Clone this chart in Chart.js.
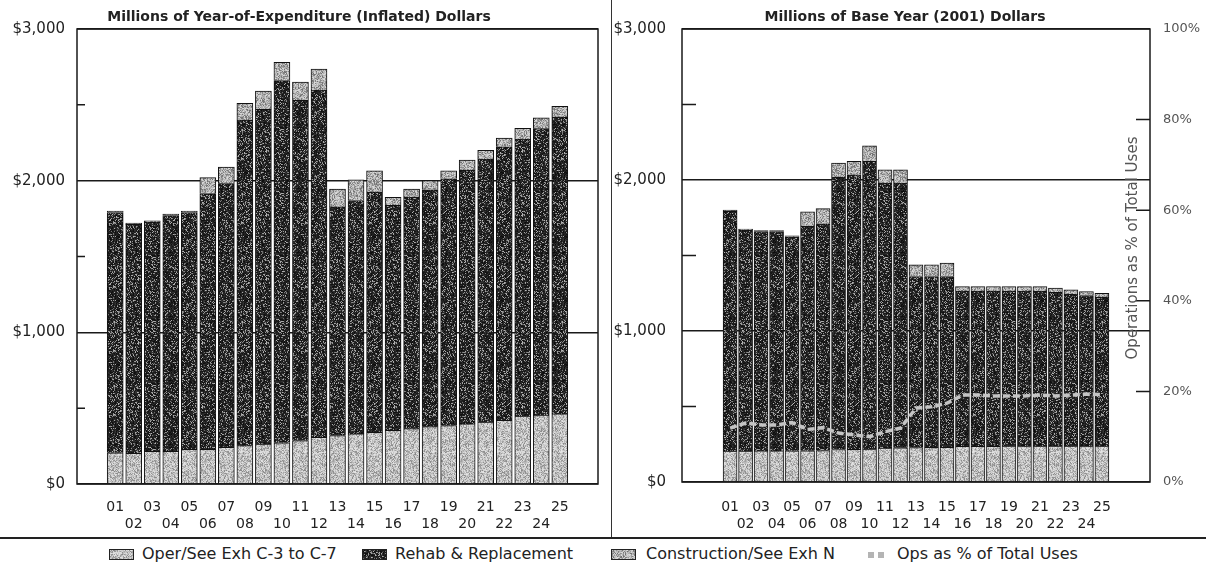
<!DOCTYPE html>
<html>
<head>
<meta charset="utf-8">
<title>Uses of Funds</title>
<script src="https://cdn.jsdelivr.net/npm/chart.js@4.4.1/dist/chart.umd.min.js"></script>
<style>
  html, body { margin: 0; padding: 0; background: #fff; }
  body { width: 1206px; height: 569px; position: relative; overflow: hidden;
         font-family: "DejaVu Sans", sans-serif; color: #222; }
  .panel { position: absolute; top: 0; height: 540px; }
  #leftPanel { left: 0; width: 604px; }
  #rightPanel { left: 604px; width: 602px; }
  #vline { position: absolute; left: 611px; top: 0; width: 1px; height: 538px; background: #333; }
  #hline { position: absolute; left: 0; top: 537px; width: 1206px; height: 2px; background: #222; }
  .sw { position: absolute; top: 549px; }
  .lt { position: absolute; top: 544px; font-size: 16px; line-height: 20px; white-space: nowrap; }
</style>
</head>
<body>
<div class="panel" id="leftPanel"><canvas id="inflChart"></canvas></div>
<div class="panel" id="rightPanel"><canvas id="baseChart"></canvas></div>
<div id="vline"></div>
<div id="hline"></div>

<canvas class="sw" id="swOper" width="25" height="11" style="left:109px"></canvas>
<span class="lt" style="left:142px">Oper/See Exh C-3 to C-7</span>
<canvas class="sw" id="swRehab" width="25" height="11" style="left:362px"></canvas>
<span class="lt" style="left:395px">Rehab &amp; Replacement</span>
<canvas class="sw" id="swConst" width="25" height="11" style="left:611px"></canvas>
<span class="lt" style="left:646px">Construction/See Exh N</span>
<canvas class="sw" id="swOps" width="22" height="11" style="left:865px"></canvas>
<span class="lt" style="left:897px">Ops as % of Total Uses</span>

<script>
// ---------------------------------------------------------------------------
// Data (millions of dollars, fiscal years 2001-2025)
// ---------------------------------------------------------------------------
const YEARS = ["01","02","03","04","05","06","07","08","09","10","11","12","13",
               "14","15","16","17","18","19","20","21","22","23","24","25"];

// Year-of-expenditure (inflated) dollars
const INF_OPER  = [206,202,215,215,229,229,242,253,264,272,286,308,319,330,341,354,365,378,385,396,409,420,448,455,462];
const INF_REHAB = [1584,1510,1512,1555,1561,1686,1738,2147,2206,2388,2244,2289,1508,1539,1584,1484,1527,1562,1627,1673,1734,1803,1827,1888,1958];
const INF_CONST = [10,8,8,10,10,105,110,110,120,120,120,138,118,136,140,52,53,60,53,66,57,57,70,72,70];

// Base year (2001) dollars
const BASE_OPER  = [205,205,206,206,207,207,208,215,216,218,225,226,228,229,230,236,237,237,238,238,238,238,238,238,238];
const BASE_REHAB = [1587,1464,1453,1453,1417,1486,1502,1804,1819,1905,1755,1754,1133,1132,1131,1028,1027,1027,1026,1026,1026,1018,1006,997,986];
const BASE_CONST = [8,6,6,6,6,97,100,93,88,104,88,88,77,77,88,30,30,30,30,30,30,28,28,26,26];

// Operations as % of total uses (right axis)
const OPS_PCT = [11.9,13.0,12.6,12.6,13.1,11.6,12.0,10.8,10.4,10.0,11.1,11.9,16.3,16.6,17.4,19.2,19.2,19.0,19.0,19.0,19.2,19.0,19.2,19.4,19.3];

const FONT = "DejaVu Sans";

// ---------------------------------------------------------------------------
// Speckled fills (scanned-print look)
// ---------------------------------------------------------------------------
function mulberry32(a) {
  return function () {
    a |= 0; a = a + 0x6D2B79F5 | 0;
    let t = Math.imul(a ^ a >>> 15, 1 | a);
    t = t + Math.imul(t ^ t >>> 7, 61 | t) ^ t;
    return ((t ^ t >>> 14) >>> 0) / 4294967296;
  };
}

function speckleTile(seed, pick) {
  const c = document.createElement("canvas");
  c.width = c.height = 64;
  const g = c.getContext("2d");
  const img = g.createImageData(64, 64);
  const r = mulberry32(seed);
  for (let i = 0; i < 64 * 64; i++) {
    const v = Math.max(0, Math.min(255, Math.round(pick(r))));
    img.data[i * 4] = img.data[i * 4 + 1] = img.data[i * 4 + 2] = v;
    img.data[i * 4 + 3] = 255;
  }
  g.putImageData(img, 0, 0);
  return c;
}

const patCtx = document.createElement("canvas").getContext("2d");
const operTile  = speckleTile(7,  r => r() < 0.3 ? 135 + r() * 35 : 180 + r() * 50);
const rehabTile = speckleTile(11, r => r() < 0.22 ? 105 + r() * 80 : 12 + r() * 40);
const constTile = speckleTile(23, r => r() < 0.35 ? 110 + r() * 45 : 165 + r() * 55);
const OPER_FILL  = patCtx.createPattern(operTile, "repeat");
const REHAB_FILL = patCtx.createPattern(rehabTile, "repeat");
const CONST_FILL = patCtx.createPattern(constTile, "repeat");

// ---------------------------------------------------------------------------
// Frame, inner minor ticks and the rotated right-axis title
// ---------------------------------------------------------------------------
const framePlugin = {
  id: "frame",
  afterDatasetsDraw(chart, args, o) {
    const { ctx, chartArea: a, scales } = chart;
    ctx.save();
    ctx.strokeStyle = "#1a1a1a";
    ctx.lineWidth = 1.5;
    ctx.strokeRect(a.left, a.top, a.right - a.left, a.bottom - a.top);
    ctx.beginPath();
    for (const t of scales.y.ticks) {
      if (t.value % 1000 === 0) continue;
      const y = scales.y.getPixelForValue(t.value);
      ctx.moveTo(a.left, y); ctx.lineTo(a.left + o.minorLen, y);
    }
    if (scales.y1) {
      for (const t of scales.y1.ticks) {
        if (t.value === 0 || t.value === 100) continue;
        const y = scales.y1.getPixelForValue(t.value);
        ctx.moveTo(a.right, y); ctx.lineTo(a.right - o.minorLen, y);
      }
    }
    ctx.stroke();
    if (o.sideTitle) {
      ctx.translate(a.right + o.sideTitle.dx, a.top + o.sideTitle.dy);
      ctx.rotate(-Math.PI / 2);
      ctx.fillStyle = "#555";
      ctx.font = `15px "${FONT}"`;
      ctx.textAlign = "center";
      ctx.textBaseline = "middle";
      ctx.fillText(o.sideTitle.text, 0, 0);
    }
    ctx.restore();
  }
};

// ---------------------------------------------------------------------------
// Panel builder
// ---------------------------------------------------------------------------
function buildPanel(canvasId, p) {
  const pts = arr => arr.map((v, i) => ({ x: i + 1, y: v }));
  const barBase = { type: "bar", stack: "uses", barThickness: p.barW, borderColor: "#111",
                    borderWidth: 1, order: 1, yAxisID: "y" };
  const datasets = [
    { ...barBase, label: "Oper/See Exh C-3 to C-7", data: pts(p.oper), backgroundColor: OPER_FILL },
    { ...barBase, label: "Rehab & Replacement", data: pts(p.rehab), backgroundColor: REHAB_FILL },
    { ...barBase, label: "Construction/See Exh N", data: pts(p.cons), backgroundColor: CONST_FILL },
  ];
  if (p.pct) {
    datasets.push({
      type: "line", label: "Ops as % of Total Uses", data: pts(p.pct), yAxisID: "y1",
      borderColor: "#c4c4c4", borderWidth: 3.5, borderDash: [7, 3], pointRadius: 0,
      tension: 0, order: 0,
    });
  }

  const scales = {
    x: {
      type: "linear", min: p.xMin, max: p.xMax, stacked: true,
      grid: { display: false }, border: { display: false },
      afterBuildTicks: s => { s.ticks = YEARS.map((_, i) => ({ value: i + 1 })); },
      afterFit: s => { s.height = p.xAxisH; },
      ticks: {
        autoSkip: false, maxRotation: 0, padding: p.xPad, color: "#222",
        font: { family: FONT, size: 14, lineHeight: "17px" },
        callback: v => {
          const i = Math.round(v) - 1;
          return i % 2 === 0 ? [YEARS[i], ""] : ["", YEARS[i]];
        }
      }
    },
    y: {
      stacked: true, min: 0, max: 3000,
      border: { display: false },
      grid: {
        drawTicks: false, lineWidth: 1.5,
        color: c => (c.tick.value % 1000 === 0 ? "#1a1a1a" : "rgba(0,0,0,0)")
      },
      afterFit: s => { s.width = p.yAxisW; },
      ticks: {
        stepSize: 500, padding: p.yPad, color: "#222",
        font: { family: FONT, size: 15 },
        callback: v => (v % 1000 === 0 ? "$" + v.toLocaleString("en-US") : "")
      }
    }
  };
  if (p.pct) {
    scales.y1 = {
      position: "right", min: 0, max: 100,
      grid: { display: false, drawTicks: false }, border: { display: false },
      afterFit: s => { s.width = p.y1W; },
      ticks: {
        stepSize: 20, padding: 13, color: "#555",
        font: { family: FONT, size: 13 },
        callback: v => v + "%"
      }
    };
  }

  return new Chart(document.getElementById(canvasId), {
    data: { datasets },
    plugins: [framePlugin],
    options: {
      responsive: true,
      maintainAspectRatio: false,
      animation: false,
      events: [],
      layout: { padding: { left: 0, right: p.padRight, top: 0, bottom: 0 } },
      plugins: {
        legend: { display: false },
        tooltip: { enabled: false },
        title: {
          display: true, text: p.title, color: "#222",
          font: { family: FONT, size: 14, weight: "bold" },
          padding: { top: 9, bottom: 3.2 }
        },
        frame: { minorLen: p.minorLen, sideTitle: p.sideTitle }
      },
      scales
    }
  });
}

buildPanel("inflChart", {
  title: "Millions of Year-of-Expenditure (Inflated) Dollars",
  oper: INF_OPER, rehab: INF_REHAB, cons: INF_CONST,
  xMin: -0.5, xMax: 26.5, barW: 16,
  yAxisW: 77, yPad: 12, xAxisH: 56, xPad: 7, padRight: 6, minorLen: 8
});

buildPanel("baseChart", {
  title: "Millions of Base Year (2001) Dollars",
  oper: BASE_OPER, rehab: BASE_REHAB, cons: BASE_CONST, pct: OPS_PCT,
  xMin: -1.5, xMax: 27.5, barW: 14,
  yAxisW: 78, yPad: 16, y1W: 56, xAxisH: 58, xPad: 9, padRight: 0, minorLen: 14,
  sideTitle: { text: "Operations as % of Total Uses", dx: -17, dy: 219 }
});

// ---------------------------------------------------------------------------
// Legend swatches
// ---------------------------------------------------------------------------
function swatch(id, fill) {
  const g = document.getElementById(id).getContext("2d");
  g.fillStyle = fill;
  g.fillRect(0, 0, 25, 11);
  g.strokeStyle = "#222";
  g.lineWidth = 1;
  g.strokeRect(0.5, 0.5, 24, 10);
}
swatch("swOper", OPER_FILL);
swatch("swRehab", REHAB_FILL);
swatch("swConst", CONST_FILL);

const og = document.getElementById("swOps").getContext("2d");
og.fillStyle = "#b4b4b4";
og.fillRect(3, 3, 6, 6);
og.fillRect(13, 3, 6, 6);
</script>
</body>
</html>
